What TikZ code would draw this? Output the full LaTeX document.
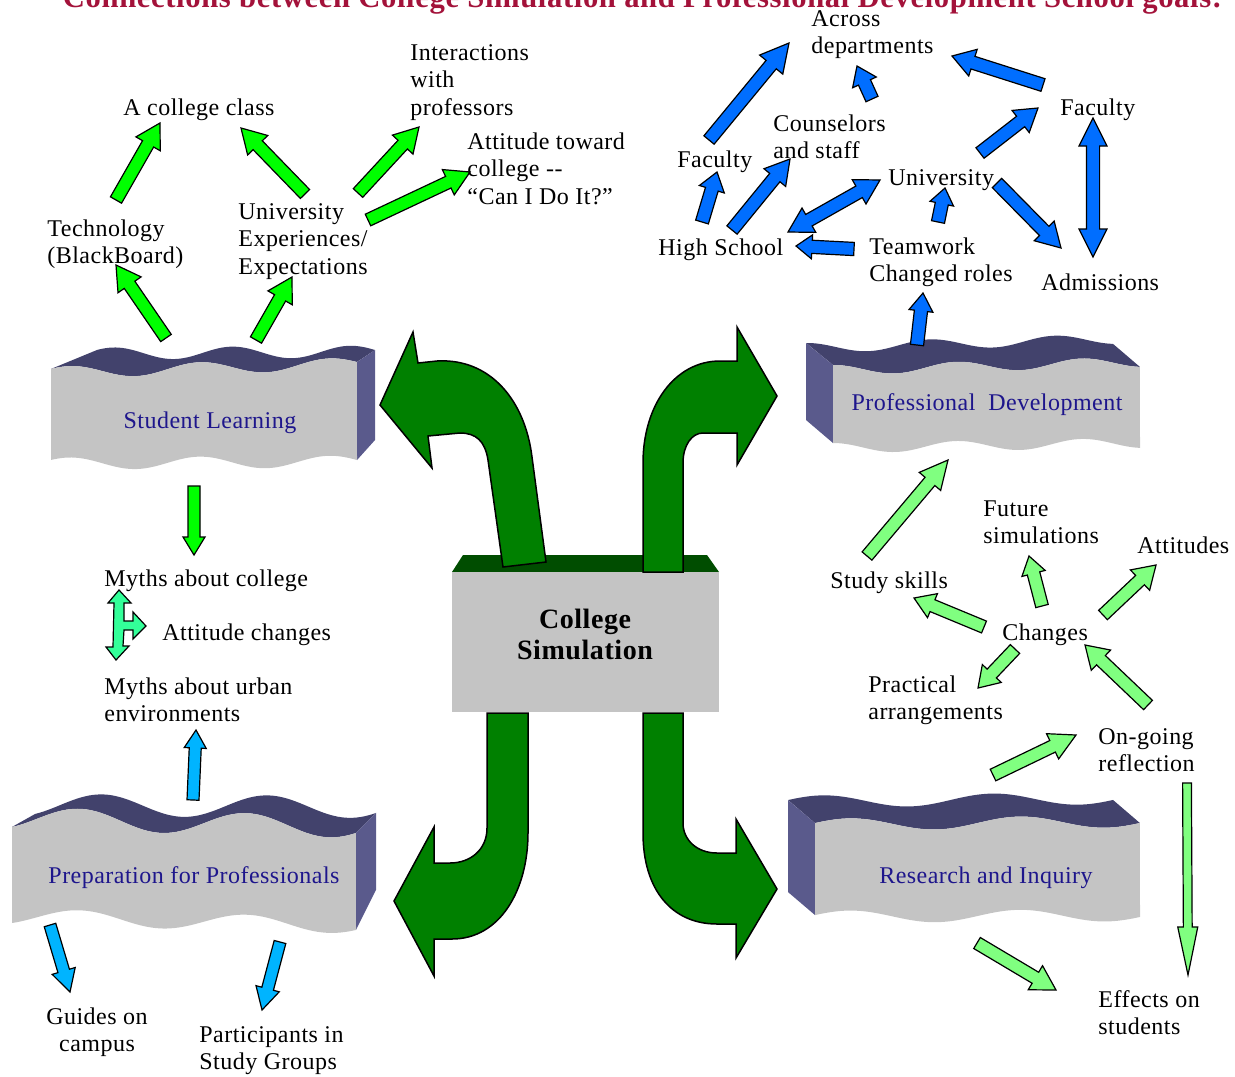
\documentclass[tikz,border=0pt]{standalone}
\usepackage{fontspec}
\usepackage{graphicx}
\setmainfont{Liberation Serif}[LetterSpace=2]
\usetikzlibrary{calc}
\definecolor{titlered}{RGB}{163,18,58}
\definecolor{navy}{RGB}{30,22,140}
\definecolor{blockfront}{RGB}{196,196,196}
\definecolor{blocktop}{RGB}{66,66,108}
\definecolor{blockside}{RGB}{90,90,140}
\definecolor{bigarrow}{RGB}{0,128,0}
\definecolor{boxtop}{RGB}{0,77,0}
\definecolor{brightgreen}{RGB}{0,255,0}
\definecolor{lightgreen}{RGB}{128,255,128}
\definecolor{bluearr}{RGB}{0,110,255}
\definecolor{cyanarr}{RGB}{0,180,255}
\definecolor{mint}{RGB}{51,255,153}
\newcommand\labfont{\fontsize{12pt}{13.75pt}\selectfont}
\newcommand\tp{\rule{0pt}{11pt}}
% block arrow: [style]{start}{end}{shaft half width}{head half width}{head length}
\newcommand\barrow[6][]{%
  \coordinate (bah) at ($(#3)!#6!(#2)$);
  \filldraw[arr,#1] ($(#2)!#4!90:(#3)$) -- ($(bah)!#4!-90:(#2)$) -- ($(bah)!#5!-90:(#2)$) -- (#3) -- ($(bah)!#5!90:(#2)$) -- ($(bah)!#4!90:(#2)$) -- ($(#2)!#4!-90:(#3)$) -- cycle;}
\newcommand\dbarrow[6][]{%
  \coordinate (bh1) at ($(#2)!#6!(#3)$);
  \coordinate (bh2) at ($(#3)!#6!(#2)$);
  \filldraw[arr,#1] (#2) -- ($(bh1)!#5!90:(#3)$) -- ($(bh1)!#4!90:(#3)$) -- ($(bh2)!#4!-90:(#2)$) -- ($(bh2)!#5!-90:(#2)$) -- (#3) -- ($(bh2)!#5!90:(#2)$) -- ($(bh2)!#4!90:(#2)$) -- ($(bh1)!#4!-90:(#3)$) -- ($(bh1)!#5!-90:(#3)$) -- cycle;}
% wave block helpers
\newcommand\frX[1]{\wxl+(\wxr-\wxl)*#1}
\newcommand\topY[1]{\wytl+(\wytr-\wytl)*#1-\wA*cos(((\wxl+(\wxr-\wxl)*#1)-\wxc)/\wP*360)}
\newcommand\botY[1]{\wybl+(\wybr-\wybl)*#1-\wAb*cos(((\wxl+(\wxr-\wxl)*#1)-\wxcb)/\wP*360)}
\newcommand\waveblock[1]{%
  \pgfmathsetmacro\wtopL{\topY{0}}\pgfmathsetmacro\wtopR{\topY{1}}%
  \pgfmathsetmacro\wbotL{\botY{0}}\pgfmathsetmacro\wbotR{\botY{1}}%
  \fill[blocktop] plot[domain=0:1,samples=90,variable=\t] ({\frX{\t}},{\topY{\t}}) -- plot[domain=1:0,samples=90,variable=\t] ({\frX{\t}+\wdlx+(\wdrx-\wdlx)*\t},{\topY{\t}+\wdly+(\wdry-\wdly)*\t}) -- cycle;
  \ifx#1R
    \fill[blockside] (\wxr,\wtopR) -- ({\wxr+\wdrx},{\wtopR+\wdry}) -- ({\wxr+\wdbx},{\wbotR+\wdby}) -- (\wxr,\wbotR) -- cycle;
  \else
    \fill[blockside] (\wxl,\wtopL) -- ({\wxl+\wdlx},{\wtopL+\wdly}) -- ({\wxl+\wdbx},{\wbotL+\wdby}) -- (\wxl,\wbotL) -- cycle;
  \fi
  \fill[blockfront] plot[domain=0:1,samples=90,variable=\t] ({\frX{\t}},{\topY{\t}}) -- plot[domain=1:0,samples=90,variable=\t] ({\frX{\t}},{\botY{\t}}) -- cycle;}
\begin{document}
\begin{tikzpicture}[x=0.5pt,y=-0.5pt,
  arr/.style={draw=black,line width=0.6pt,line join=miter},
  lab/.style={anchor=north west,inner sep=0pt,align=left,font=\labfont},
  blab/.style={inner sep=0pt,font=\labfont,text=navy},
  big/.style={fill=bigarrow,draw=black,line width=0.75pt}]
\useasboundingbox (0,0) rectangle (1235,1076);
% title
\node[anchor=base,inner sep=0pt,text=titlered] (title) at (642.5,7) {\resizebox{579.5pt}{!}{\bfseries\fontsize{14pt}{16pt}\selectfont Connections between College Simulation and Professional Development School goals:}};
% ---- wave blocks ----
% Student Learning
\begingroup
\def\wxl{51}\def\wxr{357}\def\wytl{372.6}\def\wytr{363.6}\def\wybl{463.6}\def\wybr{461.6}
\def\wA{6}\def\wAb{6}\def\wxc{200}\def\wxcb{200}\def\wP{130}
\def\wdlx{46}\def\wdly{-19}\def\wdrx{18}\def\wdry{-12}\def\wdbx{18}\def\wdby{-20}
\waveblock{R}
\endgroup
\node[blab] (sl) at (210,423) {Student Learning};
% Professional Development
\begingroup
\def\wxl{833}\def\wxr{1140}\def\wytl{370}\def\wytr{362}\def\wybl{448}\def\wybr{443}
\def\wA{5}\def\wAb{5}\def\wxc{957}\def\wxcb{957}\def\wP{125}
\def\wdlx{-27}\def\wdly{-22}\def\wdrx{-27}\def\wdry{-23}\def\wdbx{-27}\def\wdby{-23}
\waveblock{L}
\endgroup
\node[blab] (pd) at (987,405) {Professional~~Development};
% Research and Inquiry
\begingroup
\def\wxl{815}\def\wxr{1140}\def\wytl{824.7}\def\wytr{821.3}\def\wybl{916.7}\def\wybr{915.3}
\def\wA{6}\def\wAb{6}\def\wxc{850}\def\wxcb{850}\def\wP{170}
\def\wdlx{-27}\def\wdly{-23}\def\wdrx{-27}\def\wdry{-23}\def\wdbx{-27}\def\wdby{-23}
\waveblock{L}
\endgroup
\node[blab] (ri) at (986,878) {Research and Inquiry};
% Preparation for Professionals
\begingroup
\def\wxl{12}\def\wxr{356}\def\wytl{818}\def\wytr{827}\def\wybl{916.5}\def\wybr{925.6}
\def\wA{11}\def\wAb{8}\def\wxc{79}\def\wxcb{79}\def\wP{167}
\def\wdlx{23}\def\wdly{-13}\def\wdrx{20}\def\wdry{-20}\def\wdbx{20}\def\wdby{-40}
\waveblock{R}
\endgroup
\node[blab] (pp) at (194,878) {Preparation for Professionals};
% ---- central box ----
\fill[boxtop] (463,555) -- (707,555) -- (719,572) -- (452,572) -- cycle;
\fill[blockfront] (452,572) rectangle (719,712);
\node[font=\bfseries\fontsize{14pt}{15.5pt}\selectfont,align=center,inner sep=0pt] (cs) at (585,634) {College\\Simulation};
% ---- big green arrows ----
\draw[big] (503,567) -- (488,460) .. controls (485,441) and (476,433) .. (460,433) -- (428,436) -- (432,468) -- (380,405) -- (413,332) -- (418,363) -- (437,361) .. controls (490,358) and (525,400) .. (532,457) -- (546,562) -- cycle;
\draw[big] (643,572) -- (643,463) .. controls (643,405) and (675,361) .. (720,361) -- (737,361) -- (737,327) -- (777,396) -- (737,465) -- (737,433) -- (703,433) .. controls (692,433) and (683,445) .. (683,463) -- (683,572) -- cycle;
\draw[big] (487,713) -- (487,828) .. controls (487,850) and (470,863) .. (450,863) -- (434,863) -- (434,827) -- (394,901) -- (434,976) -- (434,939) -- (452,939) .. controls (500,939) and (528,890) .. (528,833) -- (528,713) -- cycle;
\draw[big] (643,713) -- (643,833) .. controls (643,890) and (672,924) .. (717,924) -- (736,924) -- (736,958) -- (777,889) -- (736,819) -- (736,853) -- (717,853) .. controls (697,853) and (683,840) .. (683,823) -- (683,713) -- cycle;
% ---- arrow end points ----
\coordinate (g1s) at (166,338); \coordinate (g1e) at (116,265);
\coordinate (g2s) at (256,340); \coordinate (g2e) at (292,277);
\coordinate (g3s) at (116,200); \coordinate (g3e) at (160,123);
\coordinate (g4s) at (305,194); \coordinate (g4e) at (241,128);
\coordinate (g5s) at (358,193); \coordinate (g5e) at (419,127);
\coordinate (g6s) at (368,220); \coordinate (g6e) at (470,172);
\coordinate (g7s) at (194,486); \coordinate (g7e) at (194,555);
\coordinate (c1s) at (193,800); \coordinate (c1e) at (196,730);
\coordinate (c2s) at (50,925);  \coordinate (c2e) at (70,992);
\coordinate (c3s) at (280,942); \coordinate (c3e) at (262,1010);
\coordinate (b1s) at (709,140); \coordinate (b1e) at (789,43);
\coordinate (b2s) at (872,99);  \coordinate (b2e) at (857,66);
\coordinate (b3s) at (1043,85); \coordinate (b3e) at (952,56);
\coordinate (b4s) at (702,222); \coordinate (b4e) at (717,172);
\coordinate (b5s) at (732,230); \coordinate (b5e) at (790,159);
\coordinate (b6s) at (788,232); \coordinate (b6e) at (880,180);
\coordinate (b7s) at (854,249); \coordinate (b7e) at (796,246);
\coordinate (b8s) at (938,222); \coordinate (b8e) at (945,188);
\coordinate (b9s) at (980,153); \coordinate (b9e) at (1038,108);
\coordinate (b10s) at (997,183); \coordinate (b10e) at (1061,248);
\coordinate (b11s) at (1093,118); \coordinate (b11e) at (1093,257);
\coordinate (b12s) at (917,345); \coordinate (b12e) at (923,293);
\coordinate (l1s) at (867,556); \coordinate (l1e) at (948,460);
\coordinate (l2s) at (984,627); \coordinate (l2e) at (914,598);
\coordinate (l3s) at (1042,606); \coordinate (l3e) at (1029,556);
\coordinate (l4s) at (1103,615); \coordinate (l4e) at (1156,565);
\coordinate (l5s) at (1015,649); \coordinate (l5e) at (978,688);
\coordinate (l6s) at (1148,705); \coordinate (l6e) at (1085,645);
\coordinate (l7s) at (993,775); \coordinate (l7e) at (1076,735);
\coordinate (l8s) at (1187,783); \coordinate (l8e) at (1188,975);
\coordinate (l9s) at (977,943); \coordinate (l9e) at (1056,990);
% ---- small arrows ----
\barrow[fill=brightgreen]{g1s}{g1e}{3.2pt}{7pt}{12pt}
\barrow[fill=brightgreen]{g2s}{g2e}{3.2pt}{7pt}{12pt}
\barrow[fill=brightgreen]{g3s}{g3e}{3.2pt}{7pt}{12pt}
\barrow[fill=brightgreen]{g4s}{g4e}{3.2pt}{7pt}{12pt}
\barrow[fill=brightgreen]{g5s}{g5e}{3.2pt}{7pt}{12pt}
\barrow[fill=brightgreen]{g6s}{g6e}{3.2pt}{7pt}{12pt}
\barrow[fill=brightgreen]{g7s}{g7e}{3pt}{5.5pt}{9pt}
\barrow[fill=cyanarr]{c1s}{c1e}{3pt}{5.5pt}{9pt}
\barrow[fill=cyanarr]{c2s}{c2e}{3pt}{6pt}{11pt}
\barrow[fill=cyanarr]{c3s}{c3e}{3pt}{6pt}{11pt}
\barrow[fill=bluearr]{b1s}{b1e}{3.3pt}{7.5pt}{14pt}
\barrow[fill=bluearr]{b2s}{b2e}{3.3pt}{6.5pt}{9pt}
\barrow[fill=bluearr]{b3s}{b3e}{3.3pt}{7pt}{11pt}
\barrow[fill=bluearr]{b4s}{b4e}{3.3pt}{6.5pt}{9pt}
\barrow[fill=bluearr]{b5s}{b5e}{3.3pt}{7pt}{12pt}
\dbarrow[fill=bluearr]{b6s}{b6e}{3.3pt}{7pt}{12pt}
\barrow[fill=bluearr]{b7s}{b7e}{3.3pt}{6pt}{8pt}
\barrow[fill=bluearr]{b8s}{b8e}{3.3pt}{6pt}{8pt}
\barrow[fill=bluearr]{b9s}{b9e}{3.3pt}{7pt}{11pt}
\barrow[fill=bluearr]{b10s}{b10e}{3.3pt}{7pt}{12pt}
\dbarrow[fill=bluearr]{b11s}{b11e}{3.3pt}{7pt}{14pt}
\barrow[fill=bluearr]{b12s}{b12e}{3.3pt}{6pt}{9pt}
\barrow[fill=lightgreen]{l1s}{l1e}{3.2pt}{7pt}{14pt}
\barrow[fill=lightgreen]{l2s}{l2e}{3.2pt}{6.5pt}{10pt}
\barrow[fill=lightgreen]{l3s}{l3e}{3.2pt}{6pt}{9pt}
\barrow[fill=lightgreen]{l4s}{l4e}{3.2pt}{7pt}{11pt}
\barrow[fill=lightgreen]{l5s}{l5e}{3.2pt}{6.5pt}{10pt}
\barrow[fill=lightgreen]{l6s}{l6e}{3.2pt}{7pt}{11pt}
\barrow[fill=lightgreen]{l7s}{l7e}{3.2pt}{7pt}{13pt}
\barrow[fill=lightgreen]{l8s}{l8e}{2.2pt}{5pt}{24pt}
\barrow[fill=lightgreen]{l9s}{l9e}{3.2pt}{7pt}{12pt}
% T-shaped mint arrow
\filldraw[arr,fill=mint] (119,590) -- (131,603) -- (124,603) -- (124,621) -- (133,621) -- (133,612) -- (146,626) -- (133,639) -- (133,630) -- (124,630) -- (123,646) -- (129,646) -- (116,660) -- (106,647) -- (113,647) -- (114,603) -- (108,603) -- cycle;
% ---- labels ----
\node[lab] (inter) at (410,38) {\tp Interactions\\with\\professors};
\node[lab] (cclass) at (123,93) {\tp A college class};
\node[lab] (atttow) at (467,127) {\tp Attitude toward\\college -{}-\\“Can I Do It?”};
\node[lab] (tech) at (47,214) {\tp Technology\\(BlackBoard)};
\node[lab] (univexp) at (238,197) {\tp University\\Experiences/\\Expectations};
\node[lab] (mythc) at (104,564) {\tp Myths about college};
\node[lab] (attch) at (162,618) {\tp Attitude changes};
\node[lab] (mythu) at (104,672) {\tp Myths about urban\\environments};
\node[lab,anchor=north,align=center] (guides) at (97,1002) {\tp Guides on\\campus};
\node[lab] (partic) at (199,1020) {\tp Participants in\\Study Groups};
\node[lab] (across) at (811,4) {\tp Across\\departments};
\node[lab] (couns) at (773,109) {\tp Counselors\\and staff};
\node[lab] (facl) at (677,145) {\tp Faculty};
\node[lab] (facr) at (1060,93) {\tp Faculty};
\node[lab] (univ) at (888,163) {\tp University};
\node[lab] (hs) at (658,233) {\tp High School};
\node[lab] (team) at (869,232) {\tp Teamwork\\Changed roles};
\node[lab] (adm) at (1041,268) {\tp Admissions};
\node[lab] (future) at (983,494) {\tp Future\\simulations};
\node[lab] (attit) at (1137,531) {\tp Attitudes};
\node[lab] (study) at (830,566) {\tp Study skills};
\node[lab] (changes) at (1002,618) {\tp Changes};
\node[lab] (pract) at (868,670) {\tp Practical\\arrangements};
\node[lab] (ongoing) at (1098,722) {\tp On-going\\reflection};
\node[lab] (effects) at (1098,985) {\tp Effects on\\students};
\end{tikzpicture}
\end{document}
